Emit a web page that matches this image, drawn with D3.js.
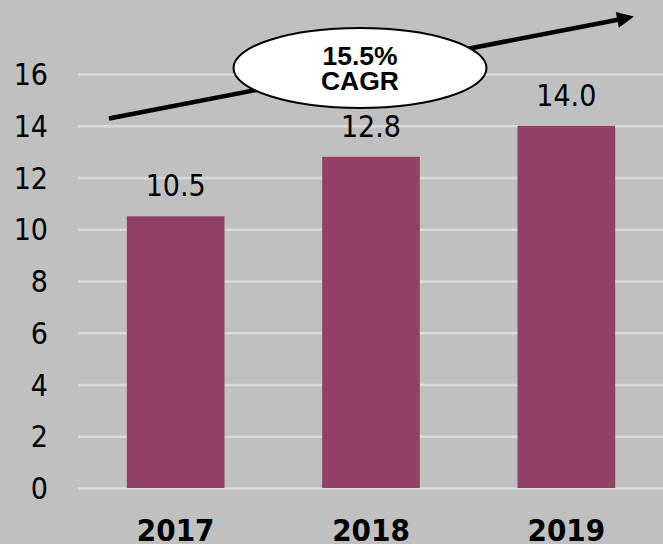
<!DOCTYPE html>
<html>
<head>
<meta charset="utf-8">
<script src="https://cdn.jsdelivr.net/npm/d3@7"></script>
<style>
html, body { margin: 0; padding: 0; background: #c0c0c0; }
svg { display: block; }
.tick-label, .val-label, .year-label { font-family: "DejaVu Sans Condensed", "DejaVu Sans", sans-serif; font-stretch: condensed; }
</style>
</head>
<body>
<svg id="chart" width="663" height="544"></svg>
<script>
const categories = ["2017", "2018", "2019"];
const values = [10.5, 12.8, 14.0];
const valueLabels = ["10.5", "12.8", "14.0"];
const yTicks = [0, 2, 4, 6, 8, 10, 12, 14, 16];
const cagrLines = ["15.5%", "CAGR"];

const W = 663, H = 544;
const svg = d3.select("#chart");
svg.append("rect").attr("width", W).attr("height", H).attr("fill", "#c0c0c0");

const plotLeft = 78, plotRight = 664;
const x = d3.scaleBand().domain(categories).range([plotLeft, plotRight]).paddingInner(0.5).paddingOuter(0.25);
const y = d3.scaleLinear().domain([0, 16]).range([488, 74]);

// gridlines
svg.append("g").selectAll("line").data(yTicks).join("line")
  .attr("x1", plotLeft).attr("x2", W)
  .attr("y1", d => y(d) + 0.5).attr("y2", d => y(d) + 0.5)
  .attr("stroke", "#dadada").attr("stroke-width", 2.5);

// y tick labels
svg.append("g").selectAll("text").data(yTicks).join("text")
  .attr("class", "tick-label")
  .attr("x", 48).attr("y", d => y(d) + 11)
  .attr("text-anchor", "end")
  .attr("font-size", 30).attr("fill", "#000")
  .text(d => d);

// bars
svg.append("g").selectAll("rect").data(values).join("rect")
  .attr("x", (d, i) => x(categories[i]))
  .attr("width", x.bandwidth())
  .attr("y", d => y(d))
  .attr("height", d => y(0) - y(d))
  .attr("fill", "#934067");

// value labels
svg.append("g").selectAll("text").data(values).join("text")
  .attr("class", "val-label")
  .attr("x", (d, i) => x(categories[i]) + x.bandwidth() / 2)
  .attr("y", d => y(d) - 20)
  .attr("text-anchor", "middle")
  .attr("font-size", 30).attr("fill", "#000")
  .text((d, i) => valueLabels[i]);

// category labels
svg.append("g").selectAll("text").data(categories).join("text")
  .attr("class", "year-label")
  .attr("x", d => x(d) + x.bandwidth() / 2)
  .attr("y", 541)
  .attr("text-anchor", "middle")
  .attr("font-size", 31).attr("font-weight", "bold").attr("fill", "#000")
  .text(d => d);

// CAGR arrow (annotation)
const arrowStart = [109, y(14.28)];
const arrowEnd = [634, y(18.22)];
const dx = arrowEnd[0] - arrowStart[0], dy = arrowEnd[1] - arrowStart[1];
const len = Math.hypot(dx, dy);
const ux = dx / len, uy = dy / len;
const headLen = 17, headHalf = 8;
const base = [arrowEnd[0] - ux * headLen, arrowEnd[1] - uy * headLen];
svg.append("line")
  .attr("x1", arrowStart[0]).attr("y1", arrowStart[1])
  .attr("x2", base[0] + ux * 2).attr("y2", base[1] + uy * 2)
  .attr("stroke", "#000").attr("stroke-width", 4.5);
svg.append("path")
  .attr("d", d3.line()([
    arrowEnd,
    [base[0] - uy * headHalf, base[1] + ux * headHalf],
    [base[0] + uy * headHalf, base[1] - ux * headHalf]
  ]) + "Z")
  .attr("fill", "#000");

// ellipse callout
svg.append("ellipse")
  .attr("cx", 360).attr("cy", 68).attr("rx", 126.5).attr("ry", 40)
  .attr("fill", "#fff").attr("stroke", "#000").attr("stroke-width", 2);
svg.append("g").selectAll("text").data(cagrLines).join("text")
  .attr("x", 360).attr("y", (d, i) => 65 + i * 25)
  .attr("text-anchor", "middle")
  .attr("font-family", "'Liberation Sans', Arial, sans-serif")
  .attr("font-weight", "bold").attr("font-size", 26.5)
  .attr("fill", "#000")
  .text(d => d);
</script>
</body>
</html>
